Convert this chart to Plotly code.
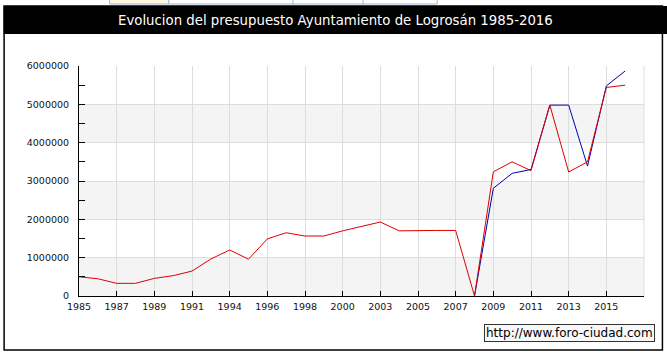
import plotly.graph_objects as go

# ---- data ----
years = ["1985", "1986", "1987", "1988", "1989", "1990", "1991", "1993", "1994", "1995",
         "1996", "1997", "1998", "1999", "2000", "2001", "2003", "2004", "2005", "2006",
         "2007", "2008", "2009", "2010", "2011", "2012", "2013", "2014", "2015", "2016"]
ingresos = [500000, 450000, 330000, 330000, 460000, 530000, 650000, 965000, 1200000, 960000,
            1490000, 1650000, 1565000, 1565000, 1700000, 1810000, 1930000, 1700000, 1710000, 1710000,
            1710000, 0, 3240000, 3500000, 3270000, 4980000, 3235000, 3500000, 5440000, 5500000]
gastos_years = ["2008", "2009", "2010", "2011", "2012", "2013", "2014", "2015", "2016"]
gastos = [0, 2810000, 3200000, 3300000, 4980000, 4980000, 3390000, 5480000, 5870000]
tick_years = ["1985", "1987", "1989", "1991", "1994", "1996", "1998", "2000", "2003",
              "2005", "2007", "2009", "2011", "2013", "2015"]
y_ticks = [0, 1000000, 2000000, 3000000, 4000000, 5000000, 6000000]
title_text = "Evolucion del presupuesto Ayuntamiento de Logrosán 1985-2016"
watermark = "http://www.foro-ciudad.com"

# ---- layout geometry (pixels) ----
W, H = 667, 361
L, R_EDGE, T, B_EDGE = 79.3, 643.6, 66, 296
PW, PH = R_EDGE - L, B_EDGE - T


def px(x):
    return (x - L) / PW


def py(y):
    return (B_EDGE - y) / PH


FONT = "DejaVu Sans"

fig = go.Figure()
fig.add_trace(go.Scatter(x=gastos_years, y=gastos, mode="lines",
                         line=dict(color="#0000B0", width=1), hoverinfo="x+y"))
fig.add_trace(go.Scatter(x=years, y=ingresos, mode="lines",
                         line=dict(color="#E00000", width=1), hoverinfo="x+y"))

shapes = []
# alternating bands
for lo in (0, 2000000, 4000000):
    shapes.append(dict(type="rect", xref="paper", yref="y", x0=0, x1=1, y0=lo, y1=lo + 1000000,
                       fillcolor="#F4F4F4", line=dict(width=0), layer="below"))
# right edge gridline
shapes.append(dict(type="line", xref="paper", yref="paper", x0=1, x1=1, y0=0, y1=1,
                   line=dict(color="#DDDDDD", width=1), layer="below"))
# title bar
shapes.append(dict(type="rect", xref="paper", yref="paper", x0=px(4), x1=px(668), y0=py(6), y1=py(34),
                   fillcolor="black", line=dict(width=0), layer="above"))
# outer frame
shapes.append(dict(type="rect", xref="paper", yref="paper", x0=px(4.5), x1=px(662), y0=py(6), y1=py(350),
                   fillcolor="rgba(0,0,0,0)", line=dict(color="black", width=1.5), layer="above"))
# top tab strip fragment
shapes.append(dict(type="rect", xref="paper", yref="paper", x0=px(110), x1=px(169), y0=py(-2), y1=py(4),
                   fillcolor="#FFF8E0", line=dict(color="#9FB5D8", width=1), layer="above"))
shapes.append(dict(type="rect", xref="paper", yref="paper", x0=px(169), x1=px(437), y0=py(-2), y1=py(4),
                   fillcolor="white", line=dict(color="#9FB5D8", width=1), layer="above"))
for dx in (293, 363):
    shapes.append(dict(type="line", xref="paper", yref="paper", x0=px(dx), x1=px(dx), y0=py(-2), y1=py(4),
                       line=dict(color="#9FB5D8", width=1), layer="above"))

annotations = [
    dict(text=title_text, xref="paper", yref="paper", x=px(335), y=py(20.5), xanchor="center",
         yanchor="middle", showarrow=False, font=dict(family=FONT, size=13.3, color="white")),
    dict(text=watermark, xref="paper", yref="paper", x=px(655), y=py(323.5), xanchor="right",
         yanchor="top", showarrow=False, font=dict(family=FONT, size=12, color="black"),
         bgcolor="#F8F8F8", bordercolor="#333333", borderwidth=1, borderpad=1),
]

fig.update_layout(
    width=W, height=H,
    margin=dict(l=L, r=W - R_EDGE, t=T, b=H - B_EDGE, pad=0),
    paper_bgcolor="white", plot_bgcolor="rgba(0,0,0,0)",
    showlegend=False,
    shapes=shapes, annotations=annotations,
    font=dict(family=FONT, size=9, color="#111111"),
)
fig.update_xaxes(type="category", categoryorder="array", categoryarray=years,
                 range=[0, 30], tickmode="array", tickvals=tick_years, ticktext=tick_years,
                 showgrid=True, gridcolor="#DDDDDD", gridwidth=1, automargin=False,
                 showline=True, linecolor="black", linewidth=1,
                 ticks="inside", ticklen=5, tickcolor="black", tickwidth=1,
                 ticklabelstandoff=2,
                 tickfont=dict(family=FONT, size=9.5, color="#111111"), zeroline=False)
fig.update_yaxes(range=[0, 6000000], tickmode="array", tickvals=y_ticks,
                 ticktext=[str(v) for v in y_ticks], automargin=False,
                 showgrid=True, gridcolor="#DDDDDD", gridwidth=1,
                 showline=True, linecolor="black", linewidth=1,
                 ticks="inside", ticklen=6, tickcolor="black", tickwidth=1,
                 minor=dict(dtick=500000, tick0=0, ticks="inside", ticklen=6, tickcolor="black", showgrid=False),
                 ticklabelstandoff=7,
                 tickfont=dict(family=FONT, size=9.5, color="#111111"), zeroline=False)

fig.write_html("out.html", config={"displayModeBar": False},
               post_script="document.body.style.margin='0';document.body.style.overflow='hidden';")
